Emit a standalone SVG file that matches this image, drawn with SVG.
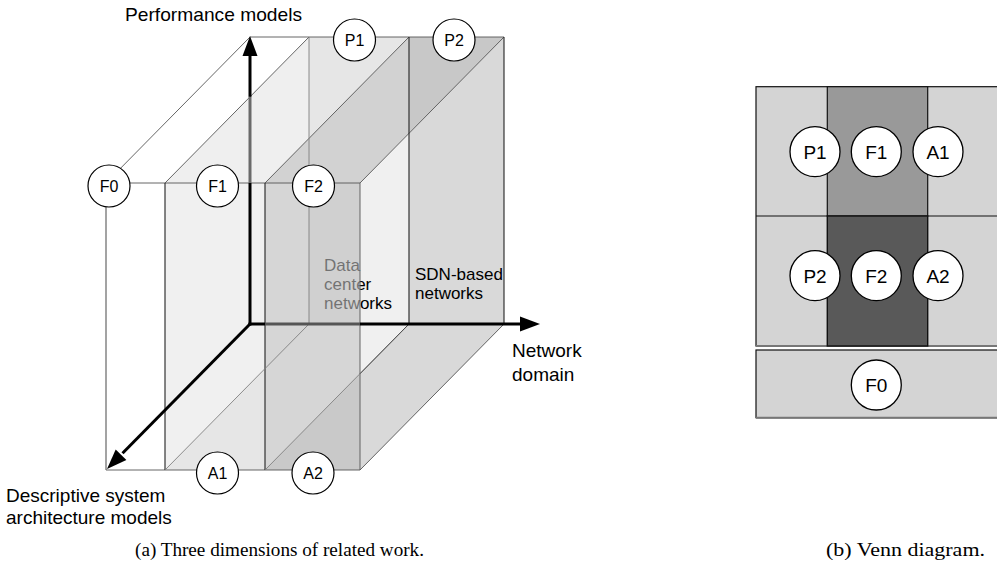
<svg xmlns="http://www.w3.org/2000/svg" width="997" height="580" viewBox="0 0 997 580">
<style>
.lbl{font-family:"Liberation Sans",Arial,sans-serif;fill:#000}
.ax{font-size:19px}
.bx{font-size:17px}
.nd circle{fill:#fff;stroke:#000;stroke-width:1.2}
.nd text{font-family:"Liberation Sans",Arial,sans-serif;font-size:16px;text-anchor:middle;fill:#000}
.vn circle{fill:#fff;stroke:#000;stroke-width:1.3}
.vn text{font-family:"Liberation Sans",Arial,sans-serif;font-size:19px;text-anchor:middle;fill:#000}
.thin{stroke:#555;stroke-width:0.9;fill:none}
.lite{stroke:#808080;stroke-width:0.9;fill:none}
.dark{stroke:#222;stroke-width:1.1;fill:none}
.axis{stroke:#000;stroke-width:3;fill:none}
.cap{font-family:"Liberation Serif","Times New Roman",serif;font-size:19.5px;fill:#000}
</style>
<rect x="0" y="0" width="997" height="580" fill="#fff"/>

<!-- Left figure: faces -->
<g id="faces">
  <polygon points="165,183 265,183 409,37 309,37" fill="#efefef"/>
  <polygon points="309,37 409,37 309,138.4" fill="#e6e6e6"/>
  <rect x="165" y="183" width="100" height="287" fill="#f0f0f0"/>
  <polygon points="165,470 265,470 265,368.6" fill="#e6e6e6"/>
  <polygon points="265,183 360,183 504,37 409,37" fill="#d2d2d2"/>
  <polygon points="409,37 504,37 409,133.3" fill="#c8c8c8"/>
  <polygon points="360,183 504,37 504,324 360,470" fill="#f0f0f0"/>
  <polygon points="360,373.7 409,324 409,133.3 504,37 504,324 360,470" fill="#d9d9d9"/>
  <rect x="265" y="183" width="95" height="287" fill="#d6d6d6"/>
  <rect x="309" y="183" width="51" height="141" fill="#d0d0d0"/>
  <polygon points="265,470 360,470 360,373.7" fill="#c9c9c9"/>
</g>

<g id="label-dc">
  <text class="lbl bx" x="324" y="271">Data</text>
  <text class="lbl bx" x="324" y="290">center</text>
  <text class="lbl bx" x="324" y="309">networks</text>
  <rect x="309" y="255" width="51" height="60" fill="#d0d0d0" fill-opacity="0.55"/>
</g>
<g id="label-sdn">
  <text class="lbl bx" x="415" y="280">SDN-based</text>
  <text class="lbl bx" x="415" y="299">networks</text>
</g>

<g id="connectors">
  <line class="thin" x1="250" y1="37" x2="504" y2="37"/>
  <line class="thin" x1="106" y1="183" x2="250" y2="37"/>
  <line class="thin" x1="165" y1="183" x2="309" y2="37"/>
  <line class="thin" x1="265" y1="183" x2="409" y2="37"/>
  <line class="thin" x1="360" y1="183" x2="504" y2="37"/>
  <line class="thin" x1="106" y1="183" x2="360" y2="183"/>
  <line class="thin" x1="106" y1="470" x2="360" y2="470"/>
  <line x1="106" y1="183" x2="106" y2="470" stroke="#666" stroke-width="1.2"/>
  <line class="dark" x1="165" y1="183" x2="165" y2="470"/>
  <line class="dark" x1="265" y1="183" x2="265" y2="470"/>
  <line class="thin" x1="360" y1="183" x2="360" y2="470"/>
  <line class="lite" x1="309" y1="37" x2="309" y2="324"/>
  <line class="dark" x1="409" y1="37" x2="409" y2="324"/>
  <line class="dark" x1="504" y1="37" x2="504" y2="324"/>
  <line class="lite" x1="165" y1="470" x2="309" y2="324"/>
  <line class="lite" x1="265" y1="470" x2="409" y2="324"/>
  <line class="thin" x1="360" y1="470" x2="504" y2="324"/>
  <line x1="360" y1="373.7" x2="409" y2="324" stroke="#444" stroke-width="0.9"/>

  <line class="axis" x1="250" y1="325.5" x2="250" y2="183"/>
  <line x1="250" y1="183" x2="250" y2="96.8" stroke="#6a6a6a" stroke-width="3"/>
  <line class="axis" x1="250" y1="96.8" x2="250" y2="54"/>
  <polygon points="250,36 242.5,56 257.5,56" fill="#000"/>
  <line class="axis" x1="248.5" y1="324" x2="265" y2="324"/>
  <line x1="265" y1="324" x2="360" y2="324" stroke="#555" stroke-width="3"/>
  <line class="axis" x1="360" y1="324" x2="522" y2="324"/>
  <polygon points="540,324 520,316.5 520,331.5" fill="#000"/>
  <line class="axis" x1="250" y1="324" x2="122.5" y2="453.3"/>
  <polygon points="107,469 126.4,460 115.7,449.5" fill="#000"/>
</g>

<text class="lbl ax" x="125" y="21" textLength="177" lengthAdjust="spacingAndGlyphs">Performance models</text>
<text class="lbl ax" x="512" y="357">Network</text>
<text class="lbl ax" x="512" y="381">domain</text>
<text class="lbl ax" x="6" y="502">Descriptive system</text>
<text class="lbl ax" x="6" y="524">architecture models</text>

<g id="node-F0" class="nd"><circle cx="109" cy="186" r="21"/><text x="109" y="191.7">F0</text></g>
<g id="node-F1" class="nd"><circle cx="217.5" cy="186" r="21"/><text x="217.5" y="191.7">F1</text></g>
<g id="node-F2" class="nd"><circle cx="313.5" cy="186" r="21"/><text x="313.5" y="191.7">F2</text></g>
<g id="node-P1" class="nd"><circle cx="354.5" cy="40" r="21"/><text x="354.5" y="45.7">P1</text></g>
<g id="node-P2" class="nd"><circle cx="454" cy="40" r="21"/><text x="454" y="45.7">P2</text></g>
<g id="node-A1" class="nd"><circle cx="217.5" cy="473" r="21"/><text x="217.5" y="478.7">A1</text></g>
<g id="node-A2" class="nd"><circle cx="313" cy="473" r="21"/><text x="313" y="478.7">A2</text></g>

<g id="venn">
  <rect x="756" y="86.7" width="250" height="259.3" fill="#d4d4d4" stroke="#111" stroke-width="1.2"/>
  <line x1="756" y1="346" x2="1000" y2="346" stroke="#777" stroke-width="2"/>
  <line x1="756" y1="216" x2="1000" y2="216" stroke="#111" stroke-width="1.2"/>
  <rect x="827.3" y="86.7" width="100.4" height="129.3" fill="#999" stroke="#111" stroke-width="1.2"/>
  <rect x="827.3" y="216" width="100.4" height="130" fill="#595959" stroke="#111" stroke-width="1.4"/>
  <rect x="756" y="350" width="250" height="67.7" fill="#d4d4d4" stroke="#111" stroke-width="1.2"/>
  <line x1="756" y1="417.7" x2="1000" y2="417.7" stroke="#777" stroke-width="2"/>
</g>
<g id="venn-P1" class="vn"><circle cx="815" cy="151.7" r="25"/><text x="815" y="158.5">P1</text></g>
<g id="venn-F1" class="vn"><circle cx="876.3" cy="151.7" r="25"/><text x="876.3" y="158.5">F1</text></g>
<g id="venn-A1" class="vn"><circle cx="938" cy="151.7" r="25"/><text x="938" y="158.5">A1</text></g>
<g id="venn-P2" class="vn"><circle cx="815" cy="275.7" r="25"/><text x="815" y="282.5">P2</text></g>
<g id="venn-F2" class="vn"><circle cx="876.3" cy="275.7" r="25"/><text x="876.3" y="282.5">F2</text></g>
<g id="venn-A2" class="vn"><circle cx="938" cy="275.7" r="25"/><text x="938" y="282.5">A2</text></g>
<g id="venn-F0" class="vn"><circle cx="876.3" cy="385" r="25"/><text x="876.3" y="391.8">F0</text></g>

<text class="cap" x="135" y="556" textLength="289" lengthAdjust="spacingAndGlyphs">(a) Three dimensions of related work.</text>
<text class="cap" x="826" y="556" textLength="159" lengthAdjust="spacingAndGlyphs">(b) Venn diagram.</text>
</svg>
